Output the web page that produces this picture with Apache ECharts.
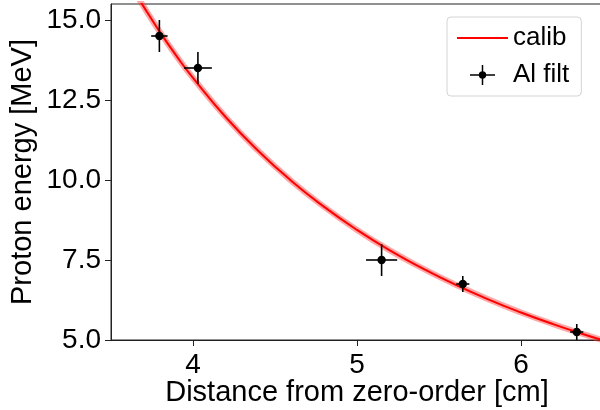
<!DOCTYPE html>
<html>
<head>
<meta charset="utf-8">
<script src="https://cdn.jsdelivr.net/npm/echarts@6/dist/echarts.min.js"></script>
<style>
html,body{margin:0;padding:0;background:#fff;}
#chart{width:600px;height:410px;}
</style>
</head>
<body>
<div id="chart"></div>
<script>
// Calibration curve
const calibX = [3.65, 3.7, 3.8, 3.9, 4.0, 4.2, 4.4, 4.6, 4.8, 5.0, 5.2, 5.4, 5.6, 5.8, 6.0, 6.2, 6.4, 6.5];
const calibY = [15.84, 15.41, 14.61, 13.87, 13.19, 11.96, 10.9, 9.97, 9.16, 8.44, 7.8, 7.24, 6.73, 6.27, 5.86, 5.49, 5.15, 4.99];

// Al filter measurements
const ptX = [3.795, 4.03, 5.15, 5.645, 6.34];
const ptY = [14.5, 13.5, 7.5, 6.75, 5.25];
const xErr = [0.05, 0.085, 0.095, 0.04, 0.04];
const yErr = [0.5, 0.5, 0.5, 0.25, 0.25];

// Axis ticks
const xTicks = [4, 5, 6];
const yTicks = [5, 7.5, 10, 12.5, 15];

const FONT = 'Liberation Sans';
const calibData = calibX.map((x, i) => [x, calibY[i]]);
const ptData = ptX.map((x, i) => [x, ptY[i], xErr[i], yErr[i]]);

const chart = echarts.init(document.getElementById('chart'), null, {renderer: 'canvas'});
chart.setOption({
  animation: false,
  backgroundColor: '#fff',
  grid: {left: 111, top: 4, right: -3, bottom: 70, containLabel: false, outerBoundsMode: 'none',
         show: true, borderColor: '#222', borderWidth: 1, backgroundColor: 'transparent'},
  xAxis: {
    type: 'value', min: 3.5, max: 6.5,
    name: 'Distance from zero-order [cm]', nameLocation: 'middle', nameGap: 38, nameMoveOverlap: false,
    nameTextStyle: {fontFamily: FONT, fontSize: 29, color: '#000'},
    axisLine: {show: true, onZero: false, lineStyle: {color: '#222', width: 1}},
    axisTick: {show: true, length: 6, inside: false, customValues: xTicks, lineStyle: {color: '#222'}},
    axisLabel: {customValues: xTicks, fontFamily: FONT, fontSize: 28, color: '#000', margin: 11, formatter: v => String(v)},
    splitLine: {show: false}
  },
  yAxis: {
    type: 'value', min: 5, max: 15.5,
    name: 'Proton energy [MeV]', nameLocation: 'middle', nameGap: 74, nameRotate: 90, nameMoveOverlap: false,
    nameTextStyle: {fontFamily: FONT, fontSize: 29, color: '#000'},
    axisLine: {show: true, onZero: false, lineStyle: {color: '#222', width: 1}},
    axisTick: {show: true, length: 6, inside: false, customValues: yTicks, lineStyle: {color: '#222'}},
    axisLabel: {customValues: yTicks, fontFamily: FONT, fontSize: 28, color: '#000', margin: 10, formatter: v => v.toFixed(1)},
    splitLine: {show: false}
  },
  legend: {
    orient: 'vertical', left: 447, top: 17,
    padding: [8, 12, 8, 10],
    itemWidth: 51, itemHeight: 20, itemGap: 11, itemTextGap: 16,
    backgroundColor: '#fff', borderColor: '#d4d4d4', borderWidth: 1, borderRadius: 4,
    textStyle: {fontFamily: FONT, fontSize: 26, color: '#000'},
    data: [
      {name: 'calib', icon: 'path://M0,9.1 H51 V10.9 H0 Z', itemStyle: {color: '#ff0000'}},
      {name: 'Al filt', icon: 'path://M0,9.25 H25 V10.75 H0 Z M11.75,0 H13.25 V20 H11.75 Z M16.2,10 A3.7,3.7 0 1 1 8.8,10 A3.7,3.7 0 1 1 16.2,10 Z', itemStyle: {color: '#000'}}
    ]
  },
  series: [
    {
      name: 'calib band', type: 'line', data: calibData, symbol: 'none', smooth: true,
      lineStyle: {color: 'rgba(255,60,60,0.45)', width: 6}, z: 2, silent: true
    },
    {
      name: 'calib', type: 'line', data: calibData, symbol: 'none', smooth: true,
      lineStyle: {color: '#ff0000', width: 2}, itemStyle: {color: '#ff0000'}, z: 3
    },
    {
      name: 'Al filt', type: 'custom', data: ptData, z: 4,
      itemStyle: {color: '#000'},
      encode: {x: 0, y: 1},
      renderItem: function (params, api) {
        const x = api.value(0), y = api.value(1), xe = api.value(2), ye = api.value(3);
        const c = api.coord([x, y]);
        const l = api.coord([x - xe, y]);
        const r = api.coord([x + xe, y]);
        const t = api.coord([x, y + ye]);
        const b = api.coord([x, y - ye]);
        const st = {stroke: '#000', lineWidth: 1.6};
        return {
          type: 'group',
          children: [
            {type: 'line', shape: {x1: l[0], y1: l[1], x2: r[0], y2: r[1]}, style: st},
            {type: 'line', shape: {x1: t[0], y1: t[1], x2: b[0], y2: b[1]}, style: st},
            {type: 'circle', shape: {cx: c[0], cy: c[1], r: 4.2}, style: {fill: '#000'}}
          ]
        };
      }
    }
  ]
});
</script>
</body>
</html>
